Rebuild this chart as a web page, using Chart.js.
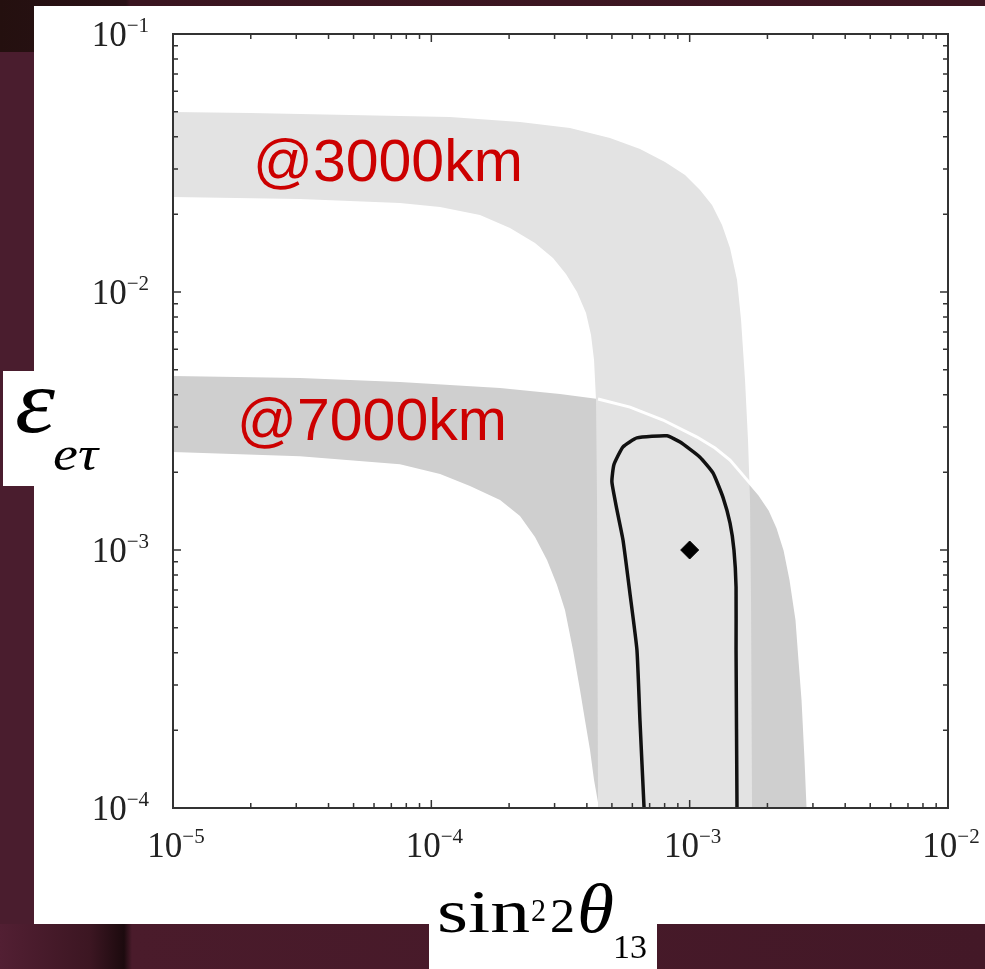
<!DOCTYPE html>
<html lang="en">
<head>
    <meta charset="UTF-8">
    <title>NSI sensitivity</title>
    <script src="https://cdn.jsdelivr.net/npm/chart.js"></script>
    <style>
        html, body {
            margin: 0;
            width: 985px;
            height: 969px;
            overflow: hidden;
            background: #4a1d2e;
        }
        .block { position: absolute; }
        .top-strip {
            left: 0; top: 0; width: 985px; height: 52px;
            background: linear-gradient(to right, #24100f 0, #2a1117 126px, #3a1520 130px, #3e1622 100%);
        }
        .bottom-strip {
            left: 0; top: 924px; width: 985px; height: 45px;
            background: linear-gradient(to right, #521f33 0, #3c1622 90px, #1c0a0e 124px, #4a1b2b 132px, #431827 100%);
        }
        .panel { left: 34px; top: 6px; width: 951px; height: 918px; background: #fff; }
        .xbox { left: 429px; top: 900px; width: 228px; height: 69px; background: #fff; }
        .ybox { left: 3px; top: 371px; width: 40px; height: 115px; background: #fff; }
        canvas { position: absolute; left: 0; top: 0; }
    </style>
</head>
<body>
    <div class="block top-strip"></div>
    <div class="block bottom-strip"></div>
    <div class="block panel"></div>
    <div class="block xbox"></div>
    <div class="block ybox"></div>
    <canvas id="sens" width="985" height="969"></canvas>

    <script>
        // band edges as [sin^2 2theta13, eps_etau]
        const band3000Upper = [
            [1e-5, 0.04985], [1.99e-5, 0.04941], [4.84e-5, 0.04853], [1.181e-4, 0.04767],
            [2.204e-4, 0.04560], [3.44e-4, 0.04322], [4.915e-4, 0.03952], [6.424e-4, 0.03583],
            [8.026e-4, 0.03191], [9.594e-4, 0.02841], [1.0965e-3, 0.02485], [1.2204e-3, 0.02174],
            [1.3343e-3, 0.01818], [1.4327e-3, 0.01481], [1.5255e-3, 0.01113], [1.5809e-3, 7.788e-3],
            [1.6379e-3, 4.56e-3], [1.682e-3, 2.669e-3], [1.7123e-3, 1.562e-3], [1.728e-3, 6.40e-4],
            [1.7435e-3, 1e-4]
        ];
        const band3000Lower = [
            [1e-5, 0.02335], [3.10e-5, 0.02293], [7.56e-5, 0.02213], [1.081e-4, 0.02135],
            [1.543e-4, 0.01988], [2.016e-4, 0.01771], [2.519e-4, 0.01548], [2.958e-4, 0.01354],
            [3.32e-4, 0.01174], [3.664e-4, 0.01], [3.970e-4, 8.29e-3], [4.151e-4, 6.81e-3],
            [4.264e-4, 5.45e-3], [4.340e-4, 3.814e-3], [4.379e-4, 1.562e-3], [4.419e-4, 1e-4]
        ];
        const band7000Upper = [
            [1e-5, 4.72e-3], [3.10e-5, 4.64e-3], [7.56e-5, 4.48e-3], [1.845e-4, 4.25e-3],
            [3.148e-4, 4.02e-3], [4.419e-4, 3.85e-3], [5.875e-4, 3.58e-3], [7.884e-4, 3.19e-3],
            [1.0675e-3, 2.74e-3], [1.2535e-3, 2.484e-3], [1.4327e-3, 2.23e-3], [1.6672e-3, 1.87e-3],
            [1.872e-3, 1.633e-3], [2.046e-3, 1.43e-3], [2.198e-3, 1.217e-3], [2.339e-3, 1.0e-3],
            [2.468e-3, 7.65e-4], [2.603e-3, 5.35e-4], [2.673e-3, 3.746e-4], [2.747e-3, 2.62e-4],
            [2.821e-3, 1.535e-4], [2.872e-3, 1e-4]
        ];
        const band7000Lower = [
            [1e-5, 2.40e-3], [3.10e-5, 2.31e-3], [7.56e-5, 2.15e-3], [1.081e-4, 1.97e-3],
            [1.411e-4, 1.77e-3], [1.845e-4, 1.562e-3], [2.204e-4, 1.354e-3], [2.519e-4, 1.123e-3],
            [2.804e-4, 9.15e-4], [3.065e-4, 7.31e-4], [3.291e-4, 5.85e-4], [3.535e-4, 4.10e-4],
            [3.763e-4, 2.866e-4], [3.934e-4, 2.19e-4], [4.114e-4, 1.678e-4], [4.264e-4, 1.283e-4],
            [4.457e-4, 1e-4]
        ];
        // combined fit contour, open at the bottom axis
        const contour = [
            [6.66e-4, 1e-4], [6.42e-4, 2.19e-4], [6.25e-4, 4.10e-4], [5.87e-4, 6.81e-4],
            [5.52e-4, 1.093e-3], [5.23e-4, 1.43e-3], [5.00e-4, 1.835e-3], [5.09e-4, 2.14e-3],
            [5.52e-4, 2.51e-3], [6.25e-4, 2.72e-3], [8.17e-4, 2.77e-3], [9.18e-4, 2.62e-3],
            [1.096e-3, 2.29e-3], [1.231e-3, 1.99e-3], [1.346e-3, 1.60e-3], [1.433e-3, 1.27e-3],
            [1.484e-3, 1.0e-3], [1.512e-3, 7.19e-4], [1.512e-3, 4.10e-4], [1.525e-3, 1e-4]
        ];
        const truePoint = [[1e-3, 1e-3]];

        const bandLabels = ['@3000km', '@7000km'];
        const bandLabelPos = [[2.04e-5, 0.0269], [1.77e-5, 2.67e-3]];

        const xTickExp = [-5, -4, -3, -2];
        const yTickExp = [-4, -3, -2, -1];

        const toXY = arr => arr.map(([x, y]) => ({ x, y }));
        const polygon = (upper, lower) => toXY(upper.concat(lower.slice().reverse()));

        const SERIF = '"Liberation Serif", "Times New Roman", serif';

        // draw text squeezed/stretched to a given width
        function fitText(ctx, text, font, x, y, width) {
            ctx.save();
            ctx.font = font;
            const w = ctx.measureText(text).width;
            ctx.translate(x, y);
            ctx.scale(width / w, 1);
            ctx.fillText(text, 0, 0);
            ctx.restore();
        }

        function powerLabel(ctx, exp) {
            ctx.font = '35px ' + SERIF;
            const wBase = ctx.measureText('10').width;
            ctx.font = '21px ' + SERIF;
            const wSup = ctx.measureText('\u2212' + Math.abs(exp)).width;
            return { wBase, wSup, total: wBase + wSup };
        }

        function drawPower(ctx, exp, left, baseline) {
            const m = powerLabel(ctx, exp);
            ctx.font = '35px ' + SERIF;
            ctx.fillText('10', left, baseline);
            ctx.font = '21px ' + SERIF;
            ctx.fillText('\u2212' + Math.abs(exp), left + m.wBase, baseline - 14);
        }

        const decor = {
            id: 'decor',
            afterDatasetsDraw(chart) {
                const { ctx, chartArea: a, scales: { x, y } } = chart;
                ctx.save();

                // ticks on all four sides
                ctx.strokeStyle = '#333';
                ctx.lineWidth = 1.5;
                ctx.beginPath();
                for (let e = -5; e < -2; e++) {
                    for (let k = 1; k <= 9; k++) {
                        const px = x.getPixelForValue(k * Math.pow(10, e));
                        const len = k === 1 ? 8 : 5;
                        ctx.moveTo(px, a.bottom); ctx.lineTo(px, a.bottom - len);
                        ctx.moveTo(px, a.top); ctx.lineTo(px, a.top + len);
                    }
                }
                for (let e = -4; e < -1; e++) {
                    for (let k = 1; k <= 9; k++) {
                        const py = y.getPixelForValue(k * Math.pow(10, e));
                        const len = k === 1 ? 8 : 5;
                        ctx.moveTo(a.left, py); ctx.lineTo(a.left + len, py);
                        ctx.moveTo(a.right, py); ctx.lineTo(a.right - len, py);
                    }
                }
                ctx.stroke();

                // frame
                ctx.strokeStyle = '#333';
                ctx.lineWidth = 2;
                ctx.strokeRect(a.left, a.top, a.right - a.left, a.bottom - a.top);

                // tick labels
                ctx.fillStyle = '#222';
                ctx.textAlign = 'left';
                ctx.textBaseline = 'alphabetic';
                xTickExp.forEach(e => {
                    const px = x.getPixelForValue(Math.pow(10, e));
                    const m = powerLabel(ctx, e);
                    drawPower(ctx, e, px + 3 - m.total / 2, a.bottom + 49);
                });
                yTickExp.forEach(e => {
                    const py = y.getPixelForValue(Math.pow(10, e));
                    const m = powerLabel(ctx, e);
                    drawPower(ctx, e, a.left - 24 - m.total, py + 12);
                });

                // band names
                ctx.fillStyle = '#cc0000';
                ctx.font = '59px "Liberation Sans", Arial, sans-serif';
                bandLabels.forEach((t, i) => {
                    const [vx, vy] = bandLabelPos[i];
                    ctx.fillText(t, x.getPixelForValue(vx), y.getPixelForValue(vy));
                });

                // axis titles
                ctx.fillStyle = '#000';
                fitText(ctx, 'sin', '62px ' + SERIF, 437, 932, 93);
                fitText(ctx, '2', '32px ' + SERIF, 531, 921, 15);
                fitText(ctx, '2', '48px ' + SERIF, 550, 932, 25);
                fitText(ctx, '\u03b8', 'italic 70px ' + SERIF, 577, 932, 37);
                fitText(ctx, '13', '34px ' + SERIF, 613, 958, 34);

                fitText(ctx, '\u03b5', 'italic 92px ' + SERIF, 15, 432, 40);
                fitText(ctx, 'e\u03c4', 'italic 48px ' + SERIF, 53, 470, 45);

                ctx.restore();
            }
        };

        new Chart(document.getElementById('sens'), {
            type: 'scatter',
            data: {
                datasets: [{
                    label: 'best fit',
                    data: toXY(truePoint),
                    pointStyle: 'rectRot',
                    pointRadius: 9,
                    backgroundColor: '#000',
                    borderColor: '#000',
                    order: 0
                }, {
                    label: 'combined',
                    data: toXY(contour),
                    showLine: true,
                    borderColor: '#111',
                    borderWidth: 3.5,
                    pointRadius: 0,
                    tension: 0.15,
                    order: 1
                }, {
                    label: '7000km edge',
                    data: toXY(band7000Upper.slice(5)),
                    showLine: true,
                    borderColor: '#fff',
                    borderWidth: 3,
                    pointRadius: 0,
                    tension: 0,
                    order: 2
                }, {
                    label: '@3000km',
                    data: polygon(band3000Upper, band3000Lower),
                    showLine: true,
                    fill: 'shape',
                    backgroundColor: '#e3e3e3',
                    borderColor: 'transparent',
                    borderWidth: 0,
                    pointRadius: 0,
                    tension: 0,
                    order: 3
                }, {
                    label: '@7000km',
                    data: polygon(band7000Upper, band7000Lower),
                    showLine: true,
                    fill: 'shape',
                    backgroundColor: '#cfcfcf',
                    borderColor: 'transparent',
                    borderWidth: 0,
                    pointRadius: 0,
                    tension: 0,
                    order: 4
                }]
            },
            options: {
                responsive: false,
                animation: false,
                layout: { padding: { left: 173, top: 34, right: 37, bottom: 161 } },
                plugins: {
                    legend: { display: false },
                    tooltip: { enabled: false }
                },
                scales: {
                    x: { type: 'logarithmic', min: 1e-5, max: 1e-2, display: false },
                    y: { type: 'logarithmic', min: 1e-4, max: 1e-1, display: false }
                }
            },
            plugins: [decor]
        });
    </script>
</body>
</html>
